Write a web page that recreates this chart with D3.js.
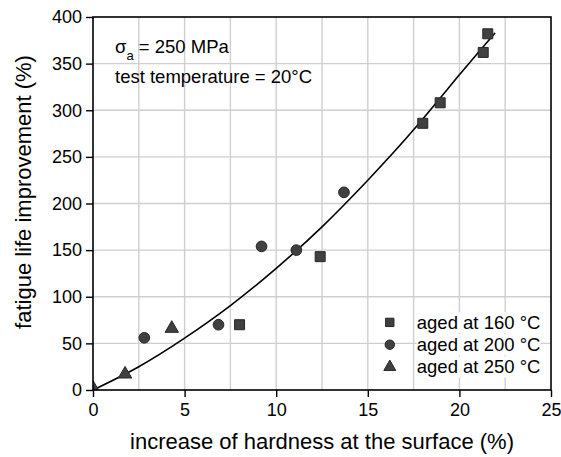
<!DOCTYPE html>
<html>
<head>
<meta charset="utf-8">
<script src="https://cdn.jsdelivr.net/npm/d3@7"></script>
<style>
  body { margin: 0; background: #fff; }
  text { font-family: "Liberation Sans", Arial, sans-serif; fill: #000; }
</style>
</head>
<body>
<div id="chart"></div>
<script>
// Measured points, one array per ageing temperature
var aged160 = [[8.0, 70], [12.4, 143], [18.0, 286], [18.95, 308], [21.3, 362], [21.55, 382]];
var aged200 = [[2.8, 56], [6.85, 70], [9.2, 154], [11.1, 150], [13.7, 212]];
var aged250 = [[0, 2], [1.75, 17], [4.3, 66]];

// Fitted trend line
var fitX = [0, 2.5, 5, 7.5, 10, 12.5, 15, 17.5, 20, 21.95];
var fitY = [0, 25, 55.6, 90.5, 130.5, 175, 225, 279, 338, 383];

var xTicks = [0, 5, 10, 15, 20, 25];
var yTicks = [0, 50, 100, 150, 200, 250, 300, 350, 400];
var xGrid = [2.5, 5, 7.5, 10, 12.5, 15, 17.5, 20, 22.5];
var yGrid = [50, 100, 150, 200, 250, 300, 350];

var legendLabels = ["aged at 160 °C", "aged at 200 °C", "aged at 250 °C"];

// Set the dimensions and margins of the graph
var margin = {top: 17, right: 10, bottom: 67, left: 93},
    width = 561 - margin.left - margin.right,
    height = 457 - margin.top - margin.bottom;

var svg = d3.select("#chart")
  .append("svg")
    .attr("width", 561)
    .attr("height", 457)
  .append("g")
    .attr("transform", "translate(" + margin.left + "," + margin.top + ")");

var x = d3.scaleLinear().domain([0, 25]).range([0, width]);
var y = d3.scaleLinear().domain([0, 400]).range([height, 0]);

svg.append("clipPath").attr("id", "plot-clip")
  .append("rect").attr("width", width).attr("height", height);

// Grid
svg.append("g").selectAll("line").data(xGrid).enter().append("line")
    .attr("x1", d => x(d)).attr("x2", d => x(d))
    .attr("y1", 0).attr("y2", height)
    .attr("stroke", "#cfcfcf").attr("stroke-width", 1.4);
svg.append("g").selectAll("line").data(yGrid).enter().append("line")
    .attr("y1", d => y(d)).attr("y2", d => y(d))
    .attr("x1", 0).attr("x2", width)
    .attr("stroke", "#cfcfcf").attr("stroke-width", 1.4);

// Axes
var xAxis = svg.append("g")
    .attr("transform", "translate(0," + height + ")")
    .call(d3.axisBottom(x).tickValues(xTicks).tickSize(7).tickPadding(6));
var yAxis = svg.append("g")
    .call(d3.axisLeft(y).tickValues(yTicks).tickSize(7).tickPadding(4));
[xAxis, yAxis].forEach(a => {
  a.select(".domain").remove();
  a.selectAll("line").attr("stroke", "#000").attr("stroke-width", 1.4);
  a.selectAll("text").style("font-size", "18px").style("font-family", "Liberation Sans, Arial, sans-serif");
});

// Fit line
var line = d3.line()
    .x(d => x(d[0]))
    .y(d => y(d[1]))
    .curve(d3.curveNatural);
svg.append("path")
    .datum(fitX.map((v, i) => [v, fitY[i]]))
    .attr("d", line)
    .attr("fill", "none")
    .attr("stroke", "#000")
    .attr("stroke-width", 1.6);

// Points
var series = [
  {data: aged160, type: d3.symbolSquare, size: 100, legendSize: 70},
  {data: aged200, type: d3.symbolCircle, size: 90, legendSize: 70},
  {data: aged250, type: d3.symbolTriangle, size: 78, legendSize: 62}
];
var marks = svg.append("g").attr("clip-path", "url(#plot-clip)");
series.forEach(s => {
  marks.selectAll(null).data(s.data).enter().append("path")
      .attr("transform", d => "translate(" + x(d[0]) + "," + y(d[1]) + ")")
      .attr("d", d3.symbol().type(s.type).size(s.size))
      .attr("fill", "#404040")
      .attr("stroke", "#262626")
      .attr("stroke-width", 1);
});

// Frame
svg.append("rect")
    .attr("width", width).attr("height", height)
    .attr("fill", "none").attr("stroke", "#000").attr("stroke-width", 1.6);

// Annotation
var note = svg.append("text").attr("x", 22).attr("y", 36).style("font-size", "18.5px");
note.append("tspan").text("σ");
note.append("tspan").attr("dy", 7).style("font-size", "13px").text("a");
note.append("tspan").attr("dy", -7).text(" = 250 MPa");
svg.append("text").attr("x", 22).attr("y", 66).style("font-size", "18.5px")
    .text("test temperature = 20°C");

// Legend
var legend = svg.append("g").attr("transform", "translate(" + (x(16.2)) + "," + y(72.5) + ")");
legendLabels.forEach((label, i) => {
  var row = legend.append("g").attr("transform", "translate(0," + (i * 22.3) + ")");
  var t = row.append("text").attr("x", 27).attr("y", 6.5)
      .style("font-size", "18.5px").text(label);
  var bb = t.node().getBBox();
  row.insert("rect", "text")
      .attr("x", bb.x).attr("y", bb.y).attr("width", bb.width).attr("height", bb.height)
      .attr("fill", "#fff");
  row.append("path")
      .attr("d", d3.symbol().type(series[i].type).size(series[i].legendSize))
      .attr("fill", "#404040").attr("stroke", "#262626").attr("stroke-width", 1);
});

// Axis labels
svg.append("text")
    .attr("x", width / 2).attr("y", height + 59)
    .style("text-anchor", "middle").style("font-size", "22px")
    .text("increase of hardness at the surface (%)");
svg.append("text")
    .attr("transform", "rotate(-90)")
    .attr("x", -175).attr("y", -62)
    .style("text-anchor", "middle").style("font-size", "22px")
    .text("fatigue life improvement (%)");
</script>
</body>
</html>
